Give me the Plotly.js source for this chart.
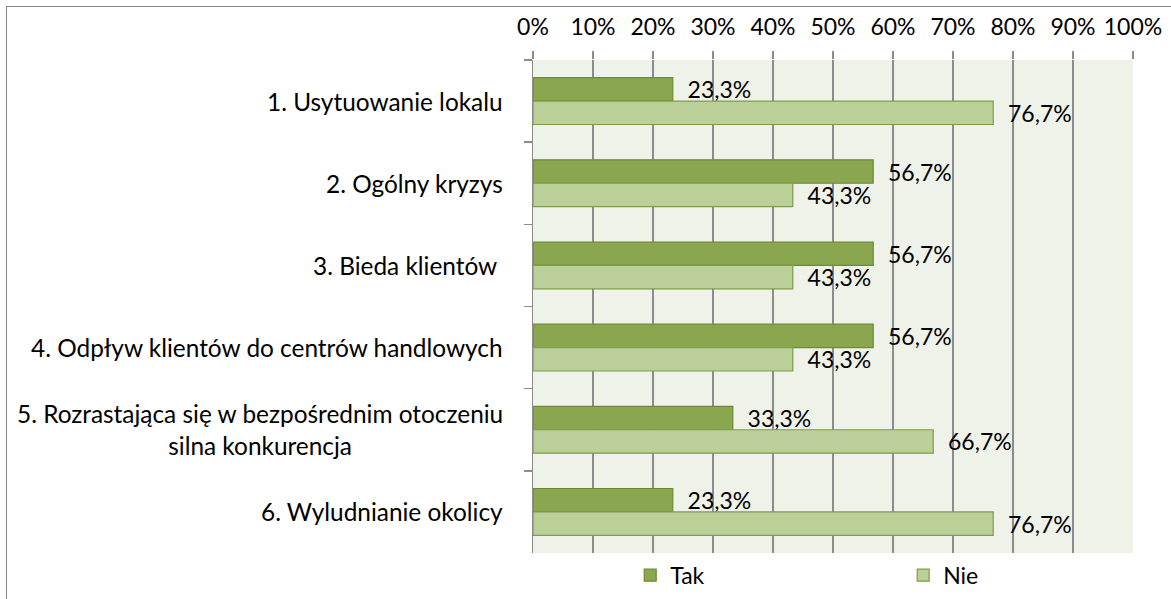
<!DOCTYPE html>
<html>
<head>
<meta charset="utf-8">
<script src="https://cdn.plot.ly/plotly-3.0.1.min.js"></script>
<style>
  html, body { margin: 0; padding: 0; background: #fff; }
  #wrap { position: relative; width: 1171px; height: 599px; overflow: hidden; }
  #chart { position: absolute; left: 0; top: 0; width: 1171px; height: 599px; }
  #frame { position: absolute; left: 6px; top: 6px; width: 1200px; height: 700px;
           border-top: 1px solid #868686; border-left: 1px solid #868686; pointer-events: none; }
</style>
</head>
<body>
<div id="wrap">
  <div id="chart"></div>
  <div id="frame"></div>
</div>
<script>
// ---- data ----
const categories = [
  "1. Usytuowanie lokalu",
  "2. Ogólny kryzys",
  "3. Bieda klientów ",
  "4. Odpływ klientów do centrów handlowych",
  "5. Rozrastająca się w bezpośrednim otoczeniu<br>silna konkurencja",
  "6. Wyludnianie okolicy"
];
const takValues = [23.3, 56.7, 56.7, 56.7, 33.3, 23.3];
const nieValues = [76.7, 43.3, 43.3, 43.3, 66.7, 76.7];
const seriesNames = ["Tak", "Nie"];
const xTickValues = [0, 10, 20, 30, 40, 50, 60, 70, 80, 90, 100];

// ---- helpers ----
const fmt = v => "\u00a0\u00a0" + v.toFixed(1).replace(".", ",") + "%";
const FONT = "Lato, 'Open Sans', sans-serif";

const traces = [
  {
    type: "bar", orientation: "h", name: seriesNames[0],
    y: categories, x: takValues,
    text: takValues.map(fmt), textposition: "outside", cliponaxis: false,
    constraintext: "none",
    textfont: { family: FONT, size: 23, color: "#000" },
    marker: { color: "#8AA64F", line: { color: "#6B8A35", width: 1.2 } },
    hoverinfo: "x+y"
  },
  {
    type: "bar", orientation: "h", name: seriesNames[1],
    y: categories, x: nieValues,
    text: nieValues.map(fmt), textposition: "outside", cliponaxis: false,
    constraintext: "none",
    textfont: { family: FONT, size: 23, color: "#000" },
    marker: { color: "#BBD098", line: { color: "#7E9C4A", width: 1.2 } },
    hoverinfo: "x+y"
  }
];

const annotations = categories.map(c => ({
  xref: "paper", yref: "y", x: 0, y: c,
  xanchor: "right", yanchor: "middle", xshift: -28,
  text: c, showarrow: false, align: "center",
  font: { family: FONT, size: 24.4, color: "#000" }
}));

const layout = {
  width: 1171, height: 599,
  margin: { l: 533, r: 38, t: 60, b: 46, pad: 0, autoexpand: false },
  paper_bgcolor: "#ffffff",
  plot_bgcolor: "#EFF2E9",
  font: { family: FONT, size: 23, color: "#000" },
  barmode: "group",
  bargap: 0.43,
  bargroupgap: 0,
  showlegend: true,
  legend: {
    orientation: "h", x: 0.617, xanchor: "center", y: -0.045, yanchor: "middle",
    entrywidth: 228, entrywidthmode: "pixels",
    font: { family: FONT, size: 23, color: "#000" },
    bgcolor: "rgba(0,0,0,0)", traceorder: "normal"
  },
  xaxis: {
    side: "top", range: [0, 100], tickvals: xTickValues,
    ticktext: xTickValues.map(v => v + "%"),
    ticks: "outside", ticklen: 8, tickcolor: "#8C8C8C", tickwidth: 1.5,
    ticklabelstandoff: 7,
    showgrid: true, gridcolor: "#8C8C8C", gridwidth: 1.5,
    zeroline: false, showline: false, fixedrange: true,
    tickfont: { family: FONT, size: 23, color: "#000" }
  },
  yaxis: {
    type: "category", autorange: "reversed",
    showticklabels: false, ticks: "outside", tickson: "boundaries",
    ticklen: 8, tickcolor: "#8C8C8C", tickwidth: 1.5,
    showline: true, linecolor: "#8C8C8C", linewidth: 1.5,
    showgrid: false, zeroline: false, fixedrange: true
  },
  annotations: annotations
};

Plotly.newPlot("chart", traces, layout, { displayModeBar: false, staticPlot: true });
</script>
</body>
</html>
